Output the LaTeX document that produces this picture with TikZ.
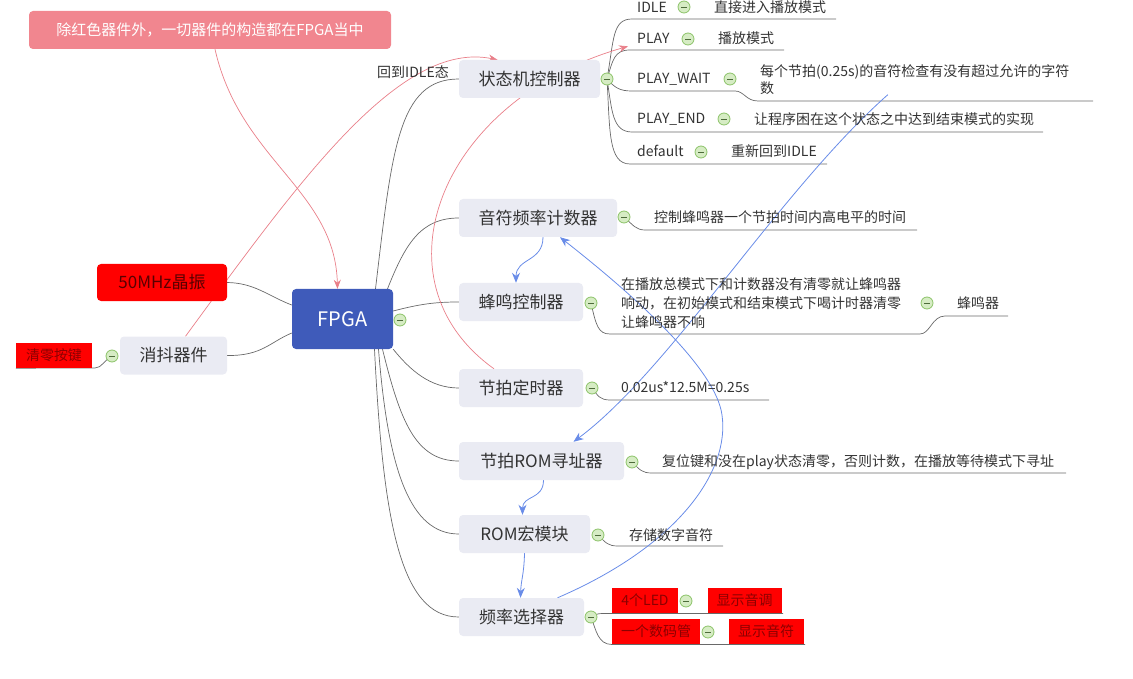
\documentclass[tikz,border=0pt]{standalone}
\usepackage{fontspec}
\setmainfont{Noto Sans CJK SC}
\usetikzlibrary{arrows.meta,calc,positioning}
\pgfdeclarelayer{bg}
\pgfsetlayers{bg,main}
\definecolor{topicgray}{RGB}{234,235,243}
\definecolor{textdark}{RGB}{51,51,51}
\definecolor{fpgablue}{RGB}{63,91,186}
\definecolor{notepink}{RGB}{241,134,143}
\definecolor{pinkline}{RGB}{233,127,137}
\definecolor{blueline}{RGB}{105,140,232}
\definecolor{branchgray}{RGB}{105,105,105}
\definecolor{foldfill}{RGB}{214,236,196}
\definecolor{foldedge}{RGB}{140,195,105}

\begin{document}
\begin{tikzpicture}[x=1pt,y=-1pt,
    topic/.style={fill=topicgray,rounded corners=4pt,minimum height=38pt,inner sep=0pt,
      text=textdark,font=\fontsize{17}{20}\selectfont},
    hwbox/.style={fill=red,rounded corners=4pt,minimum height=37pt,inner sep=0pt,
      text=red!35!black,font=\fontsize{17}{20}\selectfont},
    tag/.style={fill=red,minimum height=25pt,inner sep=0pt,
      text=red!55!black,font=\fontsize{14}{17}\selectfont},
    leaf/.style={anchor=west,inner sep=0pt,align=left,text=textdark,
      font=\fontsize{14}{19}\selectfont},
    fold/.style={circle,draw=foldedge,fill=foldfill,minimum size=12pt,inner sep=0pt,
      line width=0.8pt,path picture={\draw[foldedge!55!black,line width=0.9pt]
        ([xshift=-3pt]path picture bounding box.center) --
        ([xshift=3pt]path picture bounding box.center);}},
    branch/.style={draw=branchgray,line width=0.7pt},
    redrel/.style={draw=pinkline,line width=0.7pt,-{Stealth[length=9pt,width=7pt]}},
    bluerel/.style={draw=blueline,line width=0.8pt,-{Stealth[length=10pt,width=8pt]}}]
  \useasboundingbox (0,0) rectangle (1133,679);

  \node[fill=notepink,rounded corners=4pt,minimum width=362pt,minimum height=38pt,
    inner sep=0pt,text=white,font=\fontsize{15}{18}\selectfont] (note) at (210,30)
    {除红色器件外，一切器件的构造都在FPGA当中};
  \node[fill=fpgablue,rounded corners=4pt,minimum width=101pt,minimum height=60pt,
    text=white,font=\fontsize{20}{24}\selectfont] (fpga) at (342.5,319) {FPGA};
  \node[fold] (fpgaf) at (400,320) {};
  \node[hwbox,minimum width=130pt] (xtal) at (162,282.5) {50MHz晶振};
  \node[topic,minimum width=107pt] (debounce) at (173.5,355.5) {消抖器件};
  \node[fold] (debf) at (112,356) {};
  \node[tag,minimum width=76pt] (clr) at (54,355.5) {清零按键};
  \node[inner sep=0pt,text=textdark,font=\fontsize{14}{17}\selectfont] (backlbl)
    at (413,72) {回到IDLE态};

  \node[topic,minimum width=141pt] (fsm) at (529.5,79) {状态机控制器};
  \node[fold] (fsmf) at (607,79) {};
  \node[leaf] (idle) at (637,7) {IDLE};
  \node[fold] (idlef) at (684,7) {};
  \node[leaf] (idled) at (714,7) {直接进入播放模式};
  \node[leaf] (play) at (637,38) {PLAY};
  \node[fold] (playf) at (688,39) {};
  \node[leaf] (playd) at (718,38) {播放模式};
  \node[leaf] (wait) at (637,79) {PLAY\_WAIT};
  \node[fold] (waitf) at (730,79) {};
  \node[leaf,font=\fontsize{14}{17}\selectfont] (waitd) at (760,79.5)
    {每个节拍(0.25s)的音符检查有没有超过允许的字符\\数};
  \node[leaf] (pend) at (637,119) {PLAY\_END};
  \node[fold] (pendf) at (724,119) {};
  \node[leaf] (pendd) at (754,119) {让程序困在这个状态之中达到结束模式的实现};
  \node[leaf] (dflt) at (637,151) {default};
  \node[fold] (dfltf) at (701,152) {};
  \node[leaf] (dfltd) at (731,151) {重新回到IDLE};

  \node[topic,minimum width=158pt] (notefreq) at (538,218) {音符频率计数器};
  \node[fold] (nff) at (624,217) {};
  \node[leaf] (nfd) at (654,217) {控制蜂鸣器一个节拍时间内高电平的时间};

  \node[topic,minimum width=124pt] (buzz) at (521,302) {蜂鸣控制器};
  \node[fold] (buzzf) at (591,303) {};
  \node[leaf] (buzzd) at (621,303)
    {在播放总模式下和计数器没有清零就让蜂鸣器\\响动，在初始模式和结束模式下喝计时器清零\\让蜂鸣器不响};
  \node[fold] (buzzdf) at (927,303) {};
  \node[leaf] (buzzer) at (957,303) {蜂鸣器};

  \node[topic,minimum width=124pt] (beat) at (521,388) {节拍定时器};
  \node[fold] (beatf) at (592,388) {};
  \node[leaf] (beatd) at (621,387) {0.02us*12.5M=0.25s};

  \node[topic,minimum width=165pt] (romaddr) at (541.5,461) {节拍ROM寻址器};
  \node[fold] (romaddrf) at (632,462) {};
  \node[leaf] (romaddrd) at (662,462) {复位键和没在play状态清零，否则计数，在播放等待模式下寻址};

  \node[topic,minimum width=131pt] (rom) at (524.5,534) {ROM宏模块};
  \node[fold] (romf) at (598,535) {};
  \node[leaf] (romd) at (629,535) {存储数字音符};

  \node[topic,minimum width=125pt] (fsel) at (521.5,617) {频率选择器};
  \node[fold] (fself) at (591,617) {};
  \node[tag,minimum width=66pt] (led) at (645,600.5) {4个LED};
  \node[fold] (ledf) at (686,601) {};
  \node[tag,minimum width=74pt] (ledd) at (744.5,600.5) {显示音调};
  \node[tag,minimum width=88pt] (seg) at (656,631.5) {一个数码管};
  \node[fold] (segf) at (708,632) {};
  \node[tag,minimum width=75pt] (segd) at (766,631.5) {显示音符};

  \begin{pgfonlayer}{bg}
    \draw[branch] (xtal.east) .. controls (255,283) and (268,296) .. ([yshift=14pt]fpga.west);
    \draw[branch] (debounce.east) .. controls (262,356) and (270,342) .. ([yshift=-14pt]fpga.west);
    \draw[branch] (clr.south west) -- (95,368) .. controls (102,368) and (104,360) .. (debf.center);
    \draw[branch] ([xshift=33pt]fpga.north) .. controls (392,150) and (398,79) .. (fsm.west);
    \draw[branch] ([xshift=45pt]fpga.north) .. controls (405,245) and (420,218) .. (notefreq.west);
    \draw[branch] ([yshift=8pt]fpga.east) .. controls (420,304) and (435,302) .. (buzz.west);
    \draw[branch] (fpga.south east) .. controls (410,370) and (430,388) .. (beat.west);
    \draw[branch] ([xshift=40pt]fpga.south) .. controls (400,420) and (415,461) .. (romaddr.west);
    \draw[branch] ([xshift=36pt]fpga.south) .. controls (388,470) and (410,534) .. (rom.west);
    \draw[branch] ([xshift=32pt]fpga.south) .. controls (383,520) and (400,617) .. (fsel.west);

    \draw[branch] (fsmf.center) .. controls (614,40) and (612,19) .. (632,19) -- (836,19);
    \draw[branch] (fsmf.center) .. controls (613,60) and (614,50) .. (630,50) -- (784,50);
    \draw[branch] (fsmf.center) .. controls (615,88) and (620,91) .. (632,91) -- (735,91)
      .. controls (744,91) and (746,101) .. (758,101) -- (1093,101);
    \draw[branch] (fsmf.center) .. controls (612,110) and (612,132) .. (632,132) -- (1043,132);
    \draw[branch] (fsmf.center) .. controls (610,130) and (608,164) .. (630,164) -- (827,164);
    \draw[branch] (nff.center) .. controls (633,225) and (636,230) .. (645,230) -- (917,230);
    \draw[branch] (buzzf.center) .. controls (596,325) and (598,334) .. (610,334) -- (920,334)
      .. controls (930,334) and (932,316) .. (945,316) -- (1008,316);
    \draw[branch] (beatf.center) .. controls (598,396) and (600,400) .. (610,400) -- (769,400);
    \draw[branch] (romaddrf.center) .. controls (640,470) and (642,473) .. (652,473) -- (1066,473);
    \draw[branch] (romf.center) .. controls (606,543) and (608,546) .. (618,546) -- (723,546);
    \draw[branch] (fself.center) .. controls (596,613) and (600,613.5) .. (612,613.5) -- (783,613.5);
    \draw[branch] (fself.center) .. controls (596,630) and (598,644.5) .. (612,644.5) -- (805,644.5);

    \draw[redrel] ([xshift=5pt]note.south) .. controls (240,160) and (335,190) .. ([xshift=-5pt]fpga.north);
    \draw[redrel] ([xshift=12pt]debounce.north) .. controls (300,180) and (400,40) .. ([xshift=-32pt]fsm.north);
    \draw[redrel] ([xshift=-27pt]beat.north) .. controls (370,280) and (440,100) .. ([shift={(-9pt,-3pt)}]play.south west);

    \draw[bluerel] ([xshift=5pt]notefreq.south) .. controls (543,262) and (516,258) .. ([xshift=-5pt]buzz.north);
    \draw[bluerel] ([xshift=2pt]romaddr.south) .. controls (543.5,500) and (522.5,495) .. ([xshift=-2pt]rom.north);
    \draw[bluerel] (rom.south) .. controls (524,575) and (521,580) .. ([xshift=-1pt]fsel.north);
    \draw[bluerel] ([xshift=36pt]fsel.north) .. controls (680,545) and (730,470) .. (722,415)
      .. controls (716,370) and (640,300) .. ([xshift=22pt]notefreq.south);
    \draw[bluerel] ([xshift=-27pt]waitd.south) .. controls (780,190) and (670,370) .. ([xshift=32pt]romaddr.north);
  \end{pgfonlayer}
\end{tikzpicture}
\end{document}
